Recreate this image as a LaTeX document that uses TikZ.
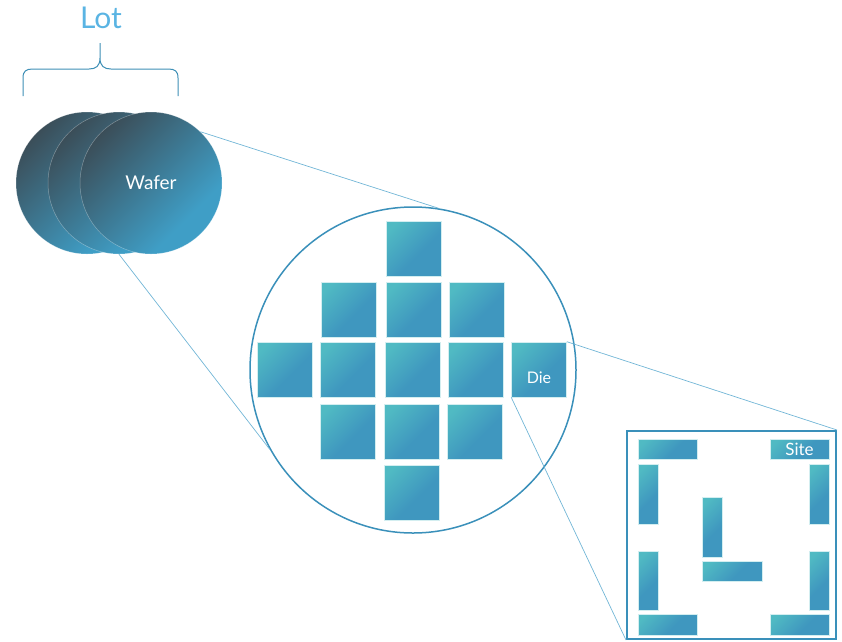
\documentclass[tikz,border=0pt]{standalone}
\usepackage{fontspec}
\setmainfont{Lato}

\definecolor{lotblue}{HTML}{5AB4E3}
\definecolor{bracecol}{HTML}{3E8FB6}
\definecolor{ringcol}{HTML}{3A90BA}
\definecolor{linkcol}{HTML}{72B6D6}
\definecolor{waferdark}{HTML}{3B4C56}
\definecolor{waferblue}{HTML}{3F9EC6}
\definecolor{dieteal}{HTML}{50BAC3}
\definecolor{dieblue}{HTML}{3F97BF}

% diagonal fills: dark/teal corner fading into the main blue
\pgfdeclarehorizontalshading{wafershade}{100bp}{color(0bp)=(waferdark); color(24bp)=(waferdark); color(68bp)=(waferblue); color(100bp)=(waferblue)}
\pgfdeclarehorizontalshading{dieshade}{100bp}{color(0bp)=(dieteal); color(22bp)=(dieteal); color(57bp)=(dieblue); color(100bp)=(dieblue)}

\tikzset{
  waferdisc/.style={circle, inner sep=0pt, minimum size=142pt,
    shading=wafershade, shading angle=-45,
    draw=white, draw opacity=0.35, line width=0.5pt},
  dieblock/.style={rectangle, inner sep=0pt, minimum size=55pt,
    shading=dieshade, shading angle=-45,
    draw=white!75!dieteal, line width=0.6pt},
  hbar/.style={dieblock, minimum width=59pt, minimum height=20pt},
  vbar/.style={dieblock, minimum width=20pt, minimum height=60pt},
  link/.style={draw=linkcol, line width=0.7pt},
  bracepath/.style={draw=bracecol, line width=1pt},
  whitetext/.style={text=white, inner sep=0pt},
}

\begin{document}
\begin{tikzpicture}[x=1pt, y=-1pt]
  \useasboundingbox (0,0) rectangle (842,641);

  % lot label and its brace
  \node[text=lotblue, font=\fontsize{30}{30}\selectfont] (lot) at (101,18) {Lot};
  \draw[bracepath] (23,96) -- (23,78) .. controls (23,71) and (26,69) .. (33,69)
    -- (89,69) .. controls (96,69) and (100,66) .. (100,58) -- (100,43)
    (100,58) .. controls (100,66) and (104,69) .. (111,69)
    -- (168,69) .. controls (175,69) and (178,71) .. (178,78) -- (178,96);

  % stack of wafers
  \node[waferdisc] (w1) at (87,183) {};
  \node[waferdisc] (w2) at (119,183) {};
  \node[waferdisc, whitetext, font=\fontsize{19}{19}\selectfont] (w3) at (151,183) {Wafer};

  % enlarged wafer outline
  \node[circle, draw=ringcol, line width=1.5pt, minimum size=326pt, inner sep=0pt] (wafer) at (413,370) {};

  % dies on the wafer
  \node[dieblock] (d11) at (413.5,248.5) {};
  \node[dieblock] (d21) at (348.5,309.5) {};
  \node[dieblock] (d22) at (413.5,309.5) {};
  \node[dieblock] (d23) at (476.5,309.5) {};
  \node[dieblock] (d31) at (285,369.5) {};
  \node[dieblock] (d32) at (348,369.5) {};
  \node[dieblock] (d33) at (412.5,369.5) {};
  \node[dieblock] (d34) at (475.5,369.5) {};
  \node[dieblock] (d35) at (539,369.5) {};
  \node[dieblock] (d41) at (347.5,431.5) {};
  \node[dieblock] (d42) at (412,431.5) {};
  \node[dieblock] (d43) at (475,431.5) {};
  \node[dieblock] (d51) at (411.5,492.5) {};
  \node[whitetext, font=\fontsize{16}{16}\selectfont] (dielbl) at ([yshift=-8pt]d35.center) {Die};

  % enlarged die with its sites
  \node[draw=ringcol, line width=2pt, minimum width=209pt, minimum height=208pt, inner sep=0pt] (site) at (731.5,535) {};
  \node[hbar] (s1) at (667.5,449) {};
  \node[hbar, whitetext, font=\fontsize{17}{17}\selectfont] (s2) at (799.5,449) {Site};
  \node[vbar] (s3) at (648.5,494) {};
  \node[vbar] (s4) at (819,494) {};
  \node[vbar] (s5) at (712,527) {};
  \node[hbar, minimum width=60pt] (s6) at (732,571) {};
  \node[vbar, minimum height=59pt] (s7) at (648.5,580.5) {};
  \node[vbar, minimum height=59pt] (s8) at (819,580.5) {};
  \node[hbar, minimum height=21pt] (s9) at (667.5,624.5) {};
  \node[hbar, minimum height=21pt] (s10) at (799.5,624.5) {};

  % zoom lines
  \draw[link] (w3.46) -- (wafer.81);
  \draw[link] (w2.-90) -- (wafer.-151);
  \draw[link] (d35.north east) -- (site.north east);
  \draw[link] (d35.south west) -- (site.south west);
\end{tikzpicture}
\end{document}
